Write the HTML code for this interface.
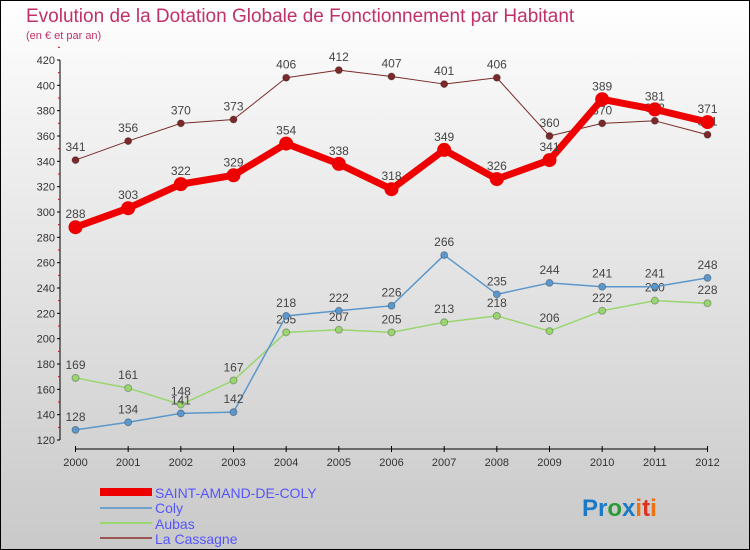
<!DOCTYPE html>
<html><head><meta charset="utf-8"><style>
body{margin:0}
#c{width:750px;height:550px;position:relative;box-sizing:border-box;border:1px solid #000;background:linear-gradient(#fff,#f3f3f3 20%,#c9c9c9);font-family:"Liberation Sans",sans-serif;overflow:hidden}
</style></head><body>
<div id="c">
<svg id="s" width="750" height="550" style="position:absolute;left:-1px;top:-1px">
<text x="26" y="22" font-size="19" fill="#c0306a">Evolution de la Dotation Globale de Fonctionnement par Habitant</text>
<text x="26" y="39" font-size="11" fill="#c0306a">(en € et par an)</text>
<g id="ax"></g><g id="ser"></g>
<g>
<rect x="100" y="488" width="52" height="8" fill="#e00"/>
<text x="155" y="498" font-size="14" fill="#55f">SAINT-AMAND-DE-COLY</text>
<line x1="100" y1="508" x2="152" y2="508" stroke="#6fa0cc" stroke-width="2"/>
<text x="155" y="513" font-size="14" fill="#55f">Coly</text>
<line x1="100" y1="523" x2="152" y2="523" stroke="#99d66f" stroke-width="2"/>
<text x="155" y="529" font-size="14" fill="#55f">Aubas</text>
<line x1="100" y1="538" x2="152" y2="538" stroke="#9b5555" stroke-width="2"/>
<text x="155" y="544" font-size="14" fill="#55f">La Cassagne</text>
</g>
<text x="582" y="516" font-size="24" font-weight="bold"><tspan fill="#1a7ac8">Pr</tspan><tspan fill="#2a9a3a">o</tspan><tspan fill="#1a7ac8">x</tspan><tspan fill="#f07010">i</tspan><tspan fill="#e03020">t</tspan><tspan fill="#f07010">i</tspan></text>
</svg></div>
<script>
const years=[2000,2001,2002,2003,2004,2005,2006,2007,2008,2009,2010,2011,2012];
const yTicks=[120,140,160,180,200,220,240,260,280,300,320,340,360,380,400,420];
const saintAmand=[288,303,322,329,354,338,318,349,326,341,389,381,371];
const coly=[128,134,141,142,218,222,226,266,235,244,241,241,248];
const aubas=[169,161,148,167,205,207,205,213,218,206,222,230,228];
const laCassagne=[341,356,370,373,406,412,407,401,406,360,370,372,361];
const NS="http://www.w3.org/2000/svg";
function X(i){return 75.5+i*(707.5-75.5)/(years.length-1);}
function Y(v){return 440-(v-120)*(380/300);}
function mk(t,a,p){const e=document.createElementNS(NS,t);for(const k in a)e.setAttribute(k,a[k]);p.appendChild(e);return e;}
const ax=document.getElementById('ax'),ser=document.getElementById('ser');
const yl=mk('line',{x1:60,y1:Y(420),x2:60,y2:Y(120),stroke:'#000'},ax);


yTicks.forEach(v=>{
 mk('line',{x1:57,y1:Y(v),x2:60,y2:Y(v),stroke:'#000'},ax);
 mk('line',{x1:58,y1:Y(v+10),x2:60,y2:Y(v+10),stroke:'#e00'},ax);
 const t=mk('text',{x:55,y:Y(v)+4,'font-size':11,fill:'#333','text-anchor':'end'},ax);t.textContent=v;
 
 
});
const xl=mk('line',{x1:75.5,y1:449,x2:707.5,y2:449,stroke:'#000'},ax);


years.forEach((y,i)=>{
 mk('line',{x1:X(i),y1:446,x2:X(i),y2:452,stroke:'#000'},ax);
 const t=mk('text',{x:X(i),y:466,'font-size':11,fill:'#333','text-anchor':'middle'},ax);t.textContent=y;
 
 
});
function series(d,col,w,r,name,lab){
 const g=mk('g',{},ser);
 
 
 mk('polyline',{points:d.map((v,i)=>X(i)+','+Y(v)).join(' '),fill:'none',stroke:col,'stroke-width':w,'stroke-linejoin':'round'},g);
 d.forEach((v,i)=>{
  const c=mk('circle',{cx:X(i),cy:Y(v),r:r,fill:col,stroke:r<5?'#0004':'none'},g);
  
  
  if(lab){const t=mk('text',{x:X(i),y:Y(v)-9,'font-size':12,fill:'#444','text-anchor':'middle'},g);t.textContent=v;
  
  }
 });
}
series(laCassagne,'#7a2a2a',1,3.5,'la-cassagne',true);
series(aubas,'#99d66f',1.5,3.5,'aubas',true);
series(coly,'#5b97cc',1.5,3.5,'coly',true);
series(saintAmand,'#e00',7,7,'saint-amand',true);
</script>
</body></html>
